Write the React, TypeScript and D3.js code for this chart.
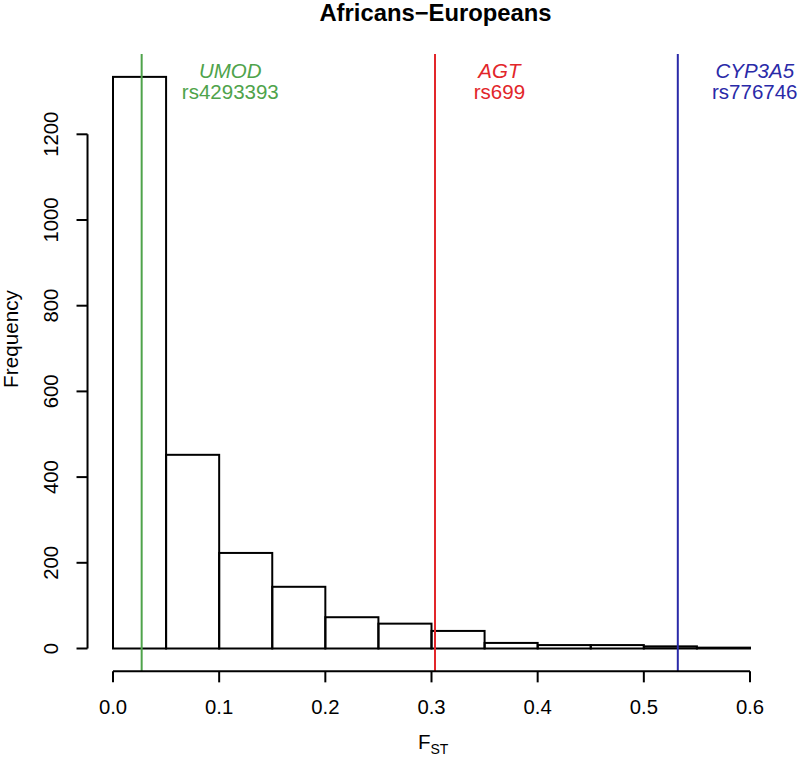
import React from "react";
import * as d3 from "d3";

const binEdges = [0, 0.05, 0.1, 0.15, 0.2, 0.25, 0.3, 0.35, 0.4, 0.45, 0.5, 0.55, 0.6];
const binCounts = [1334, 452, 223, 144, 73, 58, 41, 13, 8, 8, 5, 2];
const xTicks = [0, 0.1, 0.2, 0.3, 0.4, 0.5, 0.6];
const yTicks = [0, 200, 400, 600, 800, 1000, 1200];

const markerGenes = ["UMOD", "AGT", "CYP3A5"];
const markerSnps = ["rs4293393", "rs699", "rs776746"];
const markerFst = [0.027, 0.3033, 0.532];
const markerLabelX = [0.1105, 0.364, 0.6045];
const markerColors = ["#4fa34b", "#e2262a", "#2a2aa8"];

const W = 805;
const H = 758;
const FONT = "'Liberation Sans', Arial, sans-serif";

export default function App() {
  const x = d3.scaleLinear().domain([0, 0.6]).range([113, 750]);
  const y = d3.scaleLinear().domain([0, 1200]).range([648.5, 134.3]);
  const ymax = d3.max(binCounts) as number;
  const plotTop = y(ymax * 1.04);
  const plotBottom = y(-ymax * 0.04);
  const plotLeft = x(-0.024);
  const plotRight = x(0.624);
  const fmt = d3.format(".1f");

  return (
    <svg
      width={W}
      height={H}
      style={{ position: "absolute", left: 0, top: 0, background: "#fff" }}
      fontFamily={FONT}
    >
      <defs>
        <clipPath id="plotClip">
          <rect x={plotLeft} y={plotTop} width={plotRight - plotLeft} height={plotBottom - plotTop} />
        </clipPath>
      </defs>
      <rect x={0} y={0} width={W} height={H} fill="#fff" />
      <text x={(x(0) + x(0.6)) / 2 + 4} y={21} textAnchor="middle" fontWeight="bold" fontSize={23.8}>
        Africans−Europeans
      </text>

      {/* bars */}
      {binCounts.map((c, i) => (
        <rect
          key={i}
          x={x(binEdges[i])}
          y={y(c)}
          width={x(binEdges[i + 1]) - x(binEdges[i])}
          height={y(0) - y(c)}
          fill="none"
          stroke="#000"
          strokeWidth={2}
        />
      ))}

      {/* marker lines */}
      <g clipPath="url(#plotClip)">
        {markerFst.map((v, i) => (
          <line
            key={i}
            x1={x(v)}
            x2={x(v)}
            y1={plotTop}
            y2={plotBottom}
            stroke={markerColors[i]}
            strokeWidth={2}
          />
        ))}
      </g>
      {markerGenes.map((g, i) => (
        <g key={g} fill={markerColors[i]} fontSize={20.5} textAnchor="middle">
          <text x={x(markerLabelX[i])} y={77.5} fontStyle="italic">
            {g}
          </text>
          <text x={x(markerLabelX[i])} y={98.5}>
            {markerSnps[i]}
          </text>
        </g>
      ))}

      {/* x axis */}
      <line x1={x(0)} x2={x(0.6)} y1={plotBottom} y2={plotBottom} stroke="#000" strokeWidth={2} />
      {xTicks.map((t) => (
        <g key={t}>
          <line x1={x(t)} x2={x(t)} y1={plotBottom} y2={plotBottom + 11} stroke="#000" strokeWidth={2} />
          <text x={x(t)} y={713.5} textAnchor="middle" fontSize={20.3}>
            {fmt(t)}
          </text>
        </g>
      ))}
      <text x={418} y={749} fontSize={20.5}>
        F
        <tspan fontSize={14} dy={5}>
          ST
        </tspan>
      </text>

      {/* y axis */}
      <line x1={plotLeft} x2={plotLeft} y1={y(0)} y2={y(1200)} stroke="#000" strokeWidth={2} />
      {yTicks.map((t) => (
        <g key={t}>
          <line x1={plotLeft - 11} x2={plotLeft} y1={y(t)} y2={y(t)} stroke="#000" strokeWidth={2} />
          <text
            transform={`translate(58,${y(t)}) rotate(-90)`}
            textAnchor="middle"
            fontSize={20.3}
          >
            {t}
          </text>
        </g>
      ))}
      <text transform={`translate(18,339) rotate(-90)`} textAnchor="middle" fontSize={20.7}>
        Frequency
      </text>
    </svg>
  );
}
